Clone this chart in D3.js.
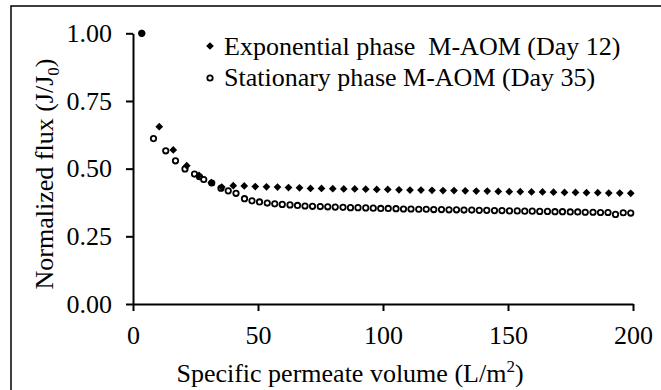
<!DOCTYPE html>
<html>
<head>
<meta charset="utf-8">
<script src="https://cdn.jsdelivr.net/npm/d3@7"></script>
<style>
  body { margin: 0; background: #fff; }
</style>
</head>
<body>
<svg id="chart" width="661" height="390"></svg>
<script>
// Exponential phase M-AOM (Day 12) - filled diamonds
const expX = [3.5, 10.5, 16.1, 21.5, 26.4, 31.3, 35.5, 40.1, 44.5, 48.9, 53.4, 57.8, 62.2, 66.6, 71.0,
  75.4, 79.9, 84.3, 88.7, 93.1, 97.5, 101.9, 106.4, 110.8, 115.2, 119.6, 124.0, 128.4, 132.9, 137.3,
  141.7, 146.1, 150.5, 154.9, 159.4, 163.8, 168.2, 172.6, 177.0, 181.4, 185.9, 190.3, 194.7, 199.1];
const expY = [1.00, 0.655, 0.569, 0.511, 0.475, 0.448, 0.432, 0.437, 0.436, 0.434, 0.433, 0.432, 0.430, 0.429, 0.427,
  0.427, 0.426, 0.425, 0.425, 0.424, 0.423, 0.423, 0.422, 0.421, 0.421, 0.420, 0.419, 0.419, 0.418, 0.417,
  0.417, 0.416, 0.415, 0.415, 0.414, 0.414, 0.413, 0.412, 0.412, 0.411, 0.411, 0.410, 0.410, 0.409];

// Stationary phase M-AOM (Day 35) - open circles
const staX = [3.5, 8.2, 13.1, 17.0, 20.8, 24.6, 26.6, 28.3, 31.5, 35.2, 38.1, 41.2, 44.6, 47.6,
  50.6, 53.7, 56.7, 59.7, 62.8, 65.8, 68.8, 71.8, 74.9, 77.9, 80.9, 84.0, 87.0, 90.0, 93.1, 96.1,
  99.1, 102.1, 105.2, 108.2, 111.2, 114.3, 117.3, 120.3, 123.4, 126.4, 129.4, 132.4, 135.5, 138.5,
  141.5, 144.6, 147.6, 150.6, 153.7, 156.7, 159.7, 162.7, 165.8, 168.8, 171.8, 174.9, 177.9, 180.9,
  184.0, 187.0, 190.0, 193.0, 196.1, 199.1];
const staY = [1.00, 0.611, 0.566, 0.529, 0.499, 0.480, 0.470, 0.460, 0.447, 0.428, 0.418, 0.409, 0.389, 0.381,
  0.377, 0.373, 0.370, 0.368, 0.366, 0.364, 0.362, 0.361, 0.360, 0.359, 0.358, 0.357, 0.356, 0.356, 0.355, 0.354,
  0.353, 0.353, 0.352, 0.351, 0.351, 0.350, 0.350, 0.349, 0.349, 0.348, 0.348, 0.347, 0.347, 0.346,
  0.346, 0.345, 0.345, 0.344, 0.344, 0.343, 0.343, 0.342, 0.342, 0.341, 0.341, 0.340, 0.340, 0.339,
  0.339, 0.338, 0.338, 0.331, 0.337, 0.336];

const xTicks = [0, 50, 100, 150, 200];
const yTicks = [0, 0.25, 0.5, 0.75, 1.0];
const legendLabels = ["Exponential phase  M-AOM (Day 12)", "Stationary phase M-AOM (Day 35)"];

const serif = "'Liberation Serif', 'Times New Roman', 'DejaVu Serif', serif";
const fontSize = 26;

const svg = d3.select("#chart")
  .attr("font-family", serif);

// outer frame (only top and left edges fall inside the picture)
svg.append("rect")
  .attr("x", 11).attr("y", 6)
  .attr("width", 700).attr("height", 450)
  .attr("fill", "none").attr("stroke", "#000").attr("stroke-width", 1.5);

const x = d3.scaleLinear().domain([0, 200]).range([133, 633]);
const y = d3.scaleLinear().domain([0, 1]).range([304, 33.3]);

const xAxis = svg.append("g")
  .attr("transform", "translate(0," + y(0) + ")")
  .call(d3.axisBottom(x).tickValues(xTicks).tickSize(7).tickPadding(15).tickSizeOuter(0))
xAxis.attr("font-family", serif).attr("font-size", fontSize);

const yAxis = svg.append("g")
  .attr("transform", "translate(" + x(0) + ",0)")
  .call(d3.axisLeft(y).tickValues(yTicks).tickFormat(d3.format(".2f")).tickSize(7).tickPadding(14).tickSizeOuter(0))
yAxis.attr("font-family", serif).attr("font-size", fontSize);

svg.selectAll(".domain, .tick line").attr("stroke", "#000").attr("stroke-width", 2);
svg.selectAll(".tick text").attr("fill", "#000");

// axis titles
const xt = svg.append("text")
  .attr("x", 350).attr("y", 382)
  .attr("text-anchor", "middle")
  .attr("font-size", fontSize);
xt.append("tspan").text("Specific permeate volume (L/m");
xt.append("tspan").attr("font-size", 17).attr("dy", -10).text("2");
xt.append("tspan").attr("dy", 10).text(")");

const yt = svg.append("text")
  .attr("transform", "translate(53," + 174 + ") rotate(-90)")
  .attr("text-anchor", "middle")
  .attr("font-size", fontSize);
yt.append("tspan").text("Normalized flux (J/J");
yt.append("tspan").attr("font-size", 17).attr("dy", 6).text("0");
yt.append("tspan").attr("dy", -6).text(")");

// markers
const diamond = d3.symbol().type(d3.symbolSquare).size(30);

const staData = staX.map((v, i) => ({ x: v, y: staY[i] }));
const expData = expX.map((v, i) => ({ x: v, y: expY[i] }));

svg.append("g").selectAll("circle")
  .data(staData)
  .enter().append("circle")
    .attr("cx", d => x(d.x))
    .attr("cy", d => y(d.y))
    .attr("r", 2.7)
    .attr("fill", "#fff")
    .attr("stroke", "#000")
    .attr("stroke-width", 1.8);

svg.append("g").selectAll("path")
  .data(expData)
  .enter().append("path")
    .attr("d", diamond)
    .attr("transform", d => "translate(" + x(d.x) + "," + y(d.y) + ") rotate(45)")
    .attr("fill", "#000");

// legend
const legend = svg.append("g");
legend.append("path")
  .attr("d", diamond)
  .attr("transform", "translate(210,46) rotate(45)")
  .attr("fill", "#000");
legend.append("circle")
  .attr("cx", 210).attr("cy", 78).attr("r", 2.7)
  .attr("fill", "#fff").attr("stroke", "#000").attr("stroke-width", 1.8);
legend.selectAll("text")
  .data(legendLabels)
  .enter().append("text")
    .attr("x", 224)
    .attr("y", (d, i) => 55 + i * 31)
    .attr("font-size", fontSize)
    .style("white-space", "pre")
    .text(d => d);
</script>
</body>
</html>
